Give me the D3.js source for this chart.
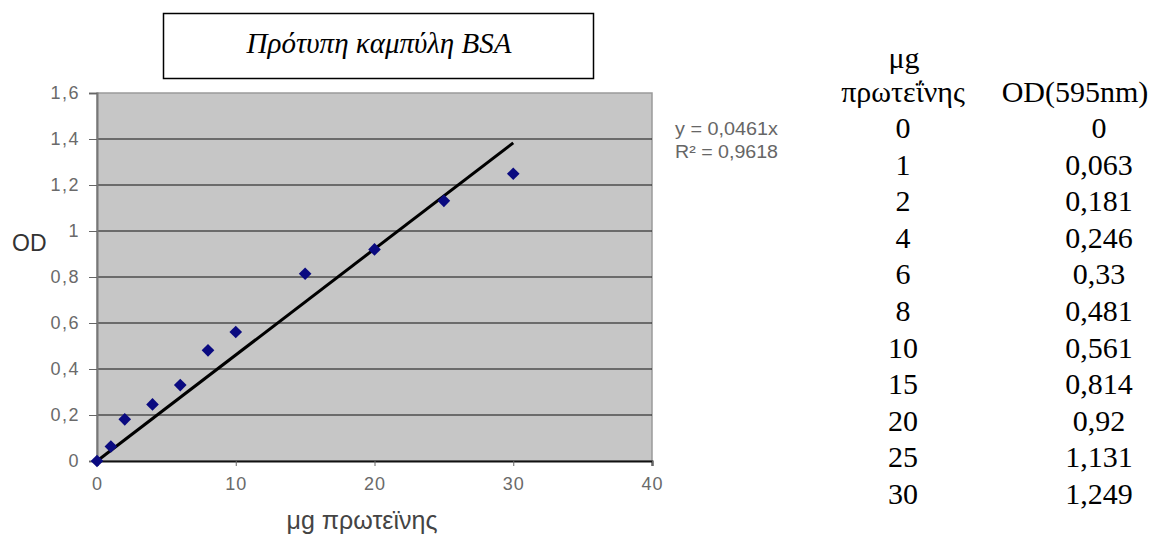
<!DOCTYPE html>
<html lang="el">
<head>
  <meta charset="UTF-8" />
  <title>Πρότυπη καμπύλη BSA</title>
  <style>
    body { margin: 0; background: #fff; }
    svg { display: block; }
  </style>
</head>
<body>
  <div id="chart"></div>
  <script src="https://d3js.org/d3.v7.min.js"></script>
  <script>
    // data
    var protein = [0, 1, 2, 4, 6, 8, 10, 15, 20, 25, 30];
    var od = [0, 0.063, 0.181, 0.246, 0.33, 0.481, 0.561, 0.814, 0.92, 1.131, 1.249];
    var slope = 0.0461;
    var r2 = 0.9618;
    var xTicks = [0, 10, 20, 30, 40];
    var yTicks = [0, 0.2, 0.4, 0.6, 0.8, 1, 1.2, 1.4, 1.6];
    var tableHead = ["μg", "πρωτεΐνης", "OD(595nm)"];
    var tableOd = ["0", "0,063", "0,181", "0,246", "0,33", "0,481", "0,561", "0,814", "0,92", "1,131", "1,249"];

    var W = 1155, H = 537;
    var plot = {left: 97, right: 652, top: 93, bottom: 461};
    var serif = "Liberation Serif, Times New Roman, serif";
    var sans = "Liberation Sans, Arial, sans-serif";

    var locale = d3.formatLocale({decimal: ",", thousands: ".", grouping: [3], currency: ["", "€"]});
    var fmt = locale.format("~g");

    var svg = d3.select("#chart").append("svg")
      .attr("width", W).attr("height", H);

    var x = d3.scaleLinear().domain([0, 40]).range([plot.left, plot.right]);
    var y = d3.scaleLinear().domain([0, 1.6]).range([plot.bottom, plot.top]);

    // plot background
    svg.append("rect")
      .attr("x", plot.left).attr("y", plot.top)
      .attr("width", plot.right - plot.left).attr("height", plot.bottom - plot.top)
      .attr("fill", "#c6c6c6").attr("stroke", "#9a9a9a").attr("stroke-width", 1.5);

    // gridlines
    svg.append("g").selectAll("line")
      .data(yTicks.filter(function(d) { return d > 0 && d < 1.6; }))
      .enter().append("line")
      .attr("x1", plot.left).attr("x2", plot.right)
      .attr("y1", function(d) { return y(d); }).attr("y2", function(d) { return y(d); })
      .attr("stroke", "#111").attr("stroke-width", 1);

    // axes
    var yAxis = svg.append("g")
      .attr("transform", "translate(" + plot.left + ",0)")
      .call(d3.axisLeft(y).tickValues(yTicks).tickFormat(fmt).tickSize(8).tickPadding(9))
      .attr("font-family", sans).attr("font-size", 18);
    yAxis.select(".domain").attr("stroke", "#777").attr("stroke-width", 2);
    yAxis.selectAll(".tick line").attr("stroke", "#666");
    yAxis.selectAll(".tick text").attr("fill", "#6a6a6a").attr("letter-spacing", 1.5);

    var xAxis = svg.append("g")
      .attr("transform", "translate(0," + plot.bottom + ")")
      .call(d3.axisBottom(x).tickValues(xTicks).tickFormat(fmt).tickSize(5).tickPadding(11))
      .attr("font-family", sans).attr("font-size", 18);
    xAxis.select(".domain").attr("stroke", "#111").attr("stroke-width", 2);
    xAxis.selectAll(".tick line").attr("stroke", "#666");
    xAxis.selectAll(".tick text").attr("fill", "#6a6a6a").attr("letter-spacing", 1);

    // trendline
    svg.append("line")
      .attr("x1", x(0)).attr("y1", y(0))
      .attr("x2", x(d3.max(protein))).attr("y2", y(slope * d3.max(protein)))
      .attr("stroke", "#000").attr("stroke-width", 3);

    // points
    svg.append("g").selectAll("path")
      .data(protein)
      .enter().append("path")
      .attr("d", d3.symbol().type(d3.symbolSquare).size(80))
      .attr("transform", function(d, i) {
        return "translate(" + x(d) + "," + y(od[i]) + ") rotate(45)";
      })
      .attr("fill", "#0a0a80");

    // axis titles
    svg.append("text")
      .attr("x", 12).attr("y", 251)
      .attr("font-family", sans)
      .attr("font-size", 23).attr("fill", "#333")
      .text("OD");

    svg.append("text")
      .attr("x", 362).attr("y", 529)
      .attr("text-anchor", "middle")
      .attr("font-family", sans)
      .attr("font-size", 25).attr("fill", "#444")
      .text("μg πρωτεϊνης");

    // trendline equation
    var eq = svg.append("g")
      .attr("font-family", sans)
      .attr("font-size", 18).attr("fill", "#666");
    eq.append("text").attr("x", 675).attr("y", 135)
      .attr("textLength", 103).attr("lengthAdjust", "spacingAndGlyphs")
      .text("y = " + locale.format(".4f")(slope) + "x");
    eq.append("text").attr("x", 675).attr("y", 158)
      .attr("textLength", 103).attr("lengthAdjust", "spacingAndGlyphs")
      .text("R² = " + locale.format(".4f")(r2));

    // title box
    svg.append("rect")
      .attr("x", 163.5).attr("y", 13.5).attr("width", 430).attr("height", 65)
      .attr("fill", "#fff").attr("stroke", "#000").attr("stroke-width", 1.5);
    svg.append("text")
      .attr("font-family", serif)
      .attr("x", 379).attr("y", 53)
      .attr("text-anchor", "middle")
      .attr("font-size", 29).attr("font-style", "italic")
      .text("Πρότυπη καμπύλη BSA");

    // data table
    var table = svg.append("g").attr("font-family", serif).attr("font-size", 30).attr("fill", "#000");
    table.append("text").attr("x", 904).attr("y", 68).attr("text-anchor", "middle").text(tableHead[0]);
    table.append("text").attr("x", 903).attr("y", 102).attr("text-anchor", "middle").text(tableHead[1]);
    table.append("text").attr("x", 1075).attr("y", 102).attr("text-anchor", "middle").text(tableHead[2]);

    var rowY = function(i) { return 138 + i * 36.6; };
    table.selectAll(".c1").data(protein).enter().append("text")
      .attr("class", "c1")
      .attr("x", 903).attr("y", function(d, i) { return rowY(i); })
      .attr("text-anchor", "middle")
      .text(function(d) { return d; });
    table.selectAll(".c2").data(tableOd).enter().append("text")
      .attr("class", "c2")
      .attr("x", 1099).attr("y", function(d, i) { return rowY(i); })
      .attr("text-anchor", "middle")
      .text(function(d) { return d; });
  </script>
</body>
</html>
